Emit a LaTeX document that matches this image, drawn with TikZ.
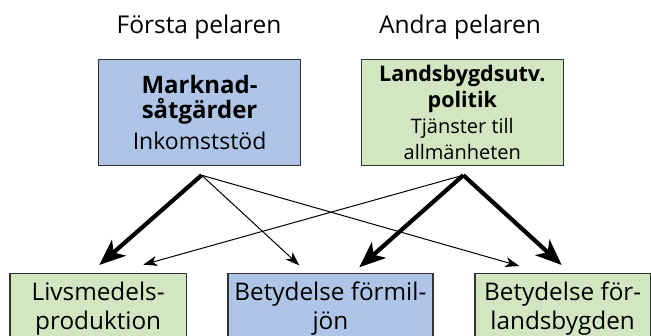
\documentclass[tikz,border=0pt]{standalone}
\usepackage{fontspec}
\setmainfont{Open Sans}
\usetikzlibrary{arrows.meta,calc}
\definecolor{boxblue}{RGB}{174,197,231}
\definecolor{boxgreen}{RGB}{209,230,193}
\definecolor{edge}{RGB}{51,51,51}
\newcommand{\bigbold}[1]{{\fontsize{24}{25}\selectfont\bfseries #1}}
\newcommand{\smallbold}[1]{{\fontsize{21.5}{25.8}\selectfont\bfseries #1}}
\begin{document}
\begin{tikzpicture}[x=1pt,y=-1pt,
  box/.style={draw=edge,line width=1.2pt,inner sep=0pt,align=center,anchor=north west},
  title/.style={font=\fontsize{24.5}{28}\selectfont,anchor=base,inner sep=0pt},
  body/.style={font=\fontsize{24.3}{29}\selectfont},
  thick arrow/.style={line width=4.2pt,-{Stealth[length=26pt,width=21pt,inset=7pt]}},
  thin arrow/.style={line width=1pt,-{Stealth[length=14pt,width=10pt,inset=4pt]}}]
\useasboundingbox (0,0) rectangle (651,336);
\clip (0,0) rectangle (651,336);
\node[title] (t1) at (199,33.3) {Första pelaren};
\node[title] (t2) at (460,33.5) {Andra pelaren};
\node[box,fill=boxblue,minimum width=202pt,minimum height=106pt,
  font=\fontsize{23}{25}\selectfont] (mk) at (98,58.7)
  {\bigbold{Marknad-}\\ \bigbold{såtgärder}\\[6pt] Inkomststöd};
\node[box,fill=boxgreen,minimum width=202pt,minimum height=106pt,
  font=\fontsize{20}{25.8}\selectfont] (lb) at (360.7,58.7)
  {\smallbold{Landsbygdsutv.}\\ \smallbold{politik}\\ Tjänster till\\ allmänheten};
\node[box,fill=boxgreen,minimum width=176.5pt,minimum height=71pt,body] (liv) at (9.3,272.7)
  {Livsmedels-\\ produktion};
\node[box,fill=boxblue,minimum width=205pt,minimum height=71pt,body] (mil) at (227.3,272.7)
  {Betydelse förmil-\\ jön};
\node[box,fill=boxgreen,minimum width=175.5pt,minimum height=71pt,body] (lan) at (474.3,272.7)
  {Betydelse för-\\ landsbygden};
\coordinate (mkf) at ($(mk.south)+(2,9.3)$);
\coordinate (lbf) at ($(lb.south)+(1,9.3)$);
\coordinate (livA) at ($(liv.north west)+(90,-7.7)$);
\coordinate (livB) at ($(liv.north west)+(134,-8)$);
\coordinate (milA) at ($(mil.north west)+(72,-7.4)$);
\coordinate (milB) at ($(mil.north west)+(132,-5.4)$);
\coordinate (lanA) at ($(lan.north west)+(45,-6.7)$);
\coordinate (lanB) at ($(lan.north west)+(87.4,-7.7)$);
\draw[thick arrow] (mkf) -- (livA);
\draw[thin arrow] (mkf) -- (milA);
\draw[thin arrow] (mkf) -- (lanA);
\draw[thin arrow] (lbf) -- (livB);
\draw[thick arrow] (lbf) -- (milB);
\draw[thick arrow] (lbf) -- (lanB);
\end{tikzpicture}
\end{document}
